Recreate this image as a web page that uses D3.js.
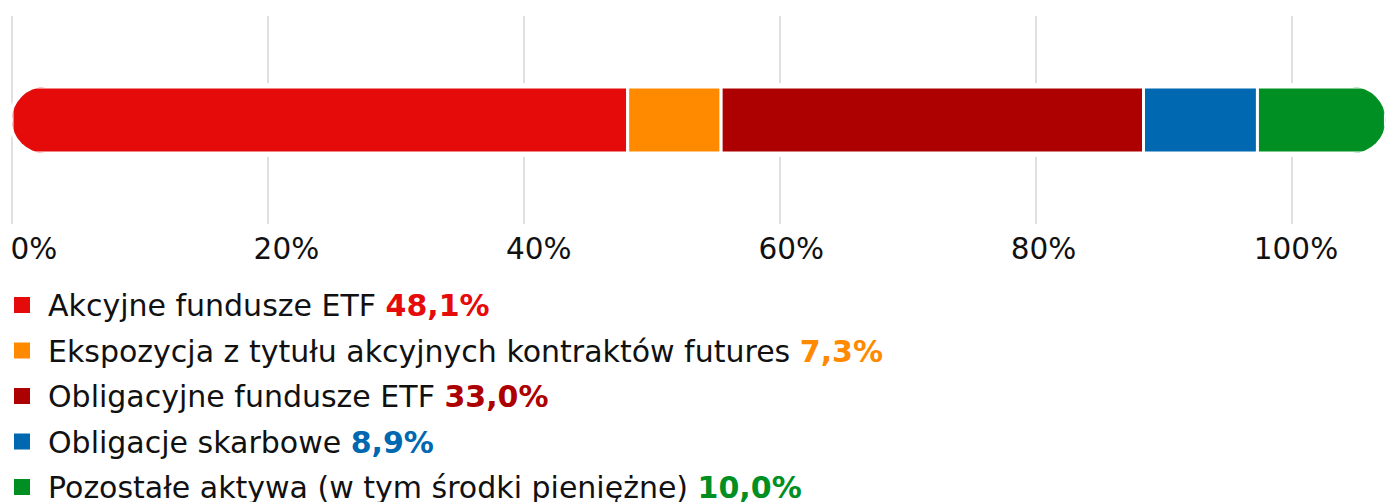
<!DOCTYPE html>
<html>
<head>
<meta charset="utf-8">
<script src="https://cdn.jsdelivr.net/npm/d3@7"></script>
<style>
  body { margin: 0; background: #fff; }
  text { font-family: "DejaVu Sans", Verdana, sans-serif; }
</style>
</head>
<body>
<div id="chart"></div>
<script>
// chart data
const categories = [
  "Akcyjne fundusze ETF",
  "Ekspozycja z tytułu akcyjnych kontraktów futures",
  "Obligacyjne fundusze ETF",
  "Obligacje skarbowe",
  "Pozostałe aktywa (w tym środki pieniężne)"
];
const values = [48.1, 7.3, 33.0, 8.9, 10.0];
const valueLabels = ["48,1%", "7,3%", "33,0%", "8,9%", "10,0%"];
const colors = ["#e60b0b", "#ff8a00", "#ad0000", "#0067b1", "#008f22"];
const ticks = [0, 20, 40, 60, 80, 100];

const width = 1390, height = 502;

const svg = d3.select("#chart").append("svg")
  .attr("width", width)
  .attr("height", height);

// scales
const x = d3.scaleLinear().domain([0, 100]).range([12, 1292]);
const xLabel = d3.scaleLinear().domain([0, 100]).range([34, 1296]);
const barTop = 87, barH = 66;

// stacked offsets
let acc = 0;
const segs = values.map((v, i) => {
  const s = { start: acc, end: acc + v, color: colors[i] };
  acc += v;
  return s;
});
const total = acc;

// gridlines
svg.append("g")
  .selectAll("line")
  .data(ticks)
  .join("line")
  .attr("x1", d => x(d)).attr("x2", d => x(d))
  .attr("y1", 16).attr("y2", 224)
  .attr("stroke", "#d6d6d6")
  .attr("stroke-width", 1.5);

// white halo behind the bar
svg.append("rect")
  .attr("x", x(0)).attr("y", barTop)
  .attr("width", x(total) - x(0)).attr("height", barH)
  .attr("rx", barH / 2)
  .attr("fill", "#fff")
  .attr("stroke", "#fff")
  .attr("stroke-width", 8);

// clip for rounded ends
svg.append("clipPath").attr("id", "barClip")
  .append("rect")
  .attr("x", x(0)).attr("y", barTop)
  .attr("width", x(total) - x(0)).attr("height", barH)
  .attr("rx", barH / 2);

svg.append("g")
  .attr("clip-path", "url(#barClip)")
  .selectAll("rect")
  .data(segs)
  .join("rect")
  .attr("x", d => x(d.start))
  .attr("y", barTop)
  .attr("width", d => x(d.end) - x(d.start))
  .attr("height", barH)
  .attr("fill", d => d.color)
  .attr("stroke", "#fff")
  .attr("stroke-width", 3);

// tick labels
svg.append("g")
  .selectAll("text")
  .data(ticks)
  .join("text")
  .attr("x", d => xLabel(d))
  .attr("y", 259)
  .attr("text-anchor", "middle")
  .style("font-size", "29.5px")
  .style("fill", "#111")
  .text(d => d + "%");

// legend
const legend = svg.append("g")
  .selectAll("g")
  .data(categories)
  .join("g")
  .attr("transform", (d, i) => `translate(0,${305 + i * 45.5})`);

legend.append("rect")
  .attr("x", 14).attr("y", -8)
  .attr("width", 16).attr("height", 16)
  .attr("fill", (d, i) => colors[i]);

const lt = legend.append("text")
  .attr("x", 48)
  .attr("y", 11)
  .style("font-size", "30px")
  .style("fill", "#111");

lt.append("tspan").text(d => d + " ");
lt.append("tspan")
  .style("font-weight", "bold")
  .style("fill", (d, i) => colors[i])
  .text((d, i) => valueLabels[i]);
</script>
</body>
</html>
